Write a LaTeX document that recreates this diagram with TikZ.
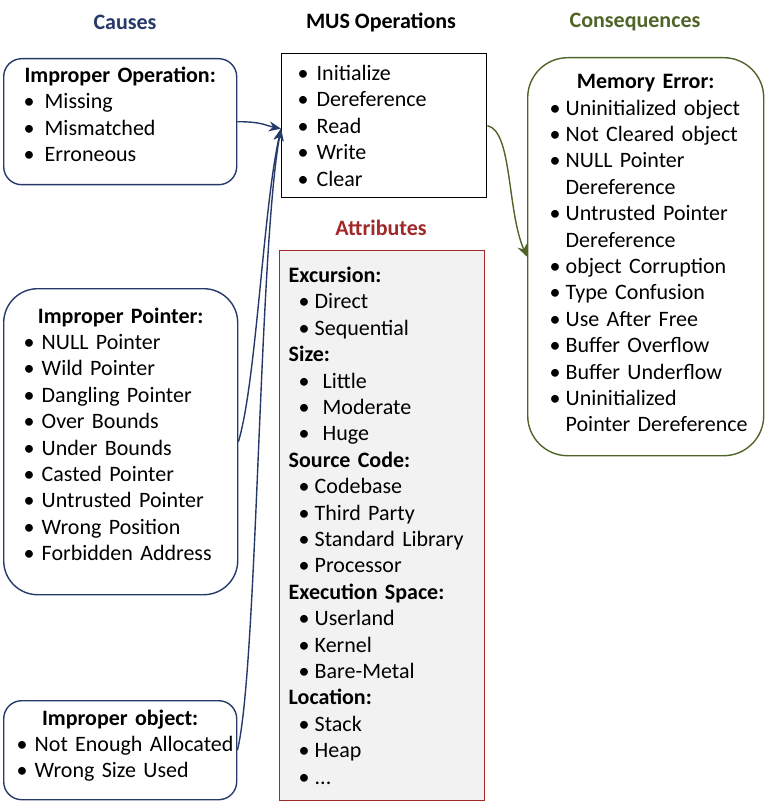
\documentclass[tikz,border=0pt]{standalone}
\usepackage{fontspec}
\setmainfont{Carlito}
\usetikzlibrary{arrows.meta}
\definecolor{cnavy}{RGB}{38,58,106}
\definecolor{cred}{RGB}{160,40,42}
\definecolor{cgreen}{RGB}{80,100,40}
\definecolor{cgray}{RGB}{242,242,242}
\newcommand{\itm}[2][18pt]{\makebox[#1][l]{\textbullet}\mbox{#2}}
\newcommand{\hd}[1]{\makebox[\linewidth]{\textbf{#1}}}
\newcommand{\dpt}[1]{\rule[-#1]{0pt}{#1}}

\begin{document}
\begin{tikzpicture}[x=1pt,y=-1pt,
  box/.style={draw,anchor=north west,align=left,inner ysep=0pt,
              font=\fontsize{22}{26.4}\selectfont,line width=1.4pt},
  ttl/.style={font=\fontsize{22}{24}\selectfont\bfseries},
  conn/.style={-{Stealth[length=12pt,width=10pt]},cnavy,line width=1.4pt},
  gconn/.style={-{Stealth[length=12pt,width=10pt]},cgreen,line width=1.4pt}
]
\useasboundingbox (0,0) rectangle (765,805);
% column titles
\node[ttl,cnavy] (causes) at (125,22) {Causes};
\node[ttl] (musops) at (381,22) {MUS Operations};
\node[ttl,cgreen] (cons) at (635,22) {Consequences};
\node[ttl,cred] (attrt) at (381,228) {Attributes};

% causes
\node[box,draw=cnavy,rounded corners=18pt,minimum width=233pt,minimum height=126pt,
      inner xsep=20pt,text width=193pt] (op) at (3,58)
 {\hd{Improper Operation:}\\
  \itm[21pt]{Missing}\\
  \itm[21pt]{Mismatched}\\
  \itm[21pt]{Erroneous}\dpt{15pt}};
\node[box,draw=cnavy,rounded corners=34pt,minimum width=234pt,minimum height=306pt,
      inner xsep=20pt,text width=194pt] (ptr) at (3,288)
 {\hd{Improper Pointer:}\\
  \itm{NULL Pointer}\\
  \itm{Wild Pointer}\\
  \itm{Dangling Pointer}\\
  \itm{Over Bounds}\\
  \itm{Under Bounds}\\
  \itm{Casted Pointer}\\
  \itm{Untrusted Pointer}\\
  \itm{Wrong Position}\\
  \itm{Forbidden Address}\dpt{15pt}};
\node[box,draw=cnavy,rounded corners=18pt,minimum width=233pt,minimum height=99pt,
      inner xsep=13pt,text width=207pt] (obj) at (3,700)
 {\hd{Improper object:}\\
  \itm{Not Enough Allocated}\\
  \itm{Wrong Size Used}\dpt{13pt}};

% operations and attributes
\node[box,minimum width=205pt,minimum height=144pt,
      inner xsep=16pt,text width=173pt] (mus) at (281,53)
 {\itm[19pt]{Initialize}\\
  \itm[19pt]{Dereference}\\
  \itm[19pt]{Read}\\
  \itm[19pt]{Write}\\
  \itm[19pt]{Clear}};
\node[box,draw=cred,fill=cgray,minimum width=205pt,minimum height=550pt,
      inner xsep=9pt,text width=187pt] (attr) at (279,250)
 {\textbf{Excursion:}\\
  \hspace*{10pt}\itm[16pt]{Direct}\\
  \hspace*{10pt}\itm[16pt]{Sequential}\\
  \textbf{Size:}\\
  \hspace*{10pt}\itm[24pt]{Little}\\
  \hspace*{10pt}\itm[24pt]{Moderate}\\
  \hspace*{10pt}\itm[24pt]{Huge}\\
  \textbf{Source Code:}\\
  \hspace*{10pt}\itm[16pt]{Codebase}\\
  \hspace*{10pt}\itm[16pt]{Third Party}\\
  \hspace*{10pt}\itm[16pt]{Standard Library}\\
  \hspace*{10pt}\itm[16pt]{Processor}\\
  \textbf{Execution Space:}\\
  \hspace*{10pt}\itm[16pt]{Userland}\\
  \hspace*{10pt}\itm[16pt]{Kernel}\\
  \hspace*{10pt}\itm[16pt]{Bare-Metal}\\
  \textbf{Location:}\\
  \hspace*{10pt}\itm[16pt]{Stack}\\
  \hspace*{10pt}\itm[16pt]{Heap}\\
  \hspace*{10pt}\itm[16pt]{...}};

% consequences
\node[box,draw=cgreen,rounded corners=40pt,minimum width=236pt,minimum height=398pt,
      inner xsep=22pt,text width=192pt] (mem) at (527,57)
 {\hd{Memory Error:}\\
  \itm[16pt]{Uninitialized object}\\
  \itm[16pt]{Not Cleared object}\\
  \itm[16pt]{NULL Pointer}\\
  \hspace*{16pt}\mbox{Dereference}\\
  \itm[16pt]{Untrusted Pointer}\\
  \hspace*{16pt}\mbox{Dereference}\\
  \itm[16pt]{object Corruption}\\
  \itm[16pt]{Type Confusion}\\
  \itm[16pt]{Use After Free}\\
  \itm[16pt]{Buffer Overflow}\\
  \itm[16pt]{Buffer Underflow}\\
  \itm[16pt]{Uninitialized}\\
  \hspace*{16pt}\mbox{Pointer Dereference}\dpt{7pt}};

% connectors
\draw[conn] (op.east) .. controls +(25,0) and +(-15,-3) .. ([yshift=-3pt]mus.west);
\draw[conn] (ptr.east) .. controls +(18,-60) and +(-18,80) .. ([yshift=-3pt]mus.west);
\draw[conn] (obj.east) .. controls +(20,-80) and +(-22,120) .. ([yshift=-3pt]mus.west);
\draw[gconn] (mus.east) .. controls +(25,5) and +(-20,-45) .. (mem.west);
\end{tikzpicture}
\end{document}
